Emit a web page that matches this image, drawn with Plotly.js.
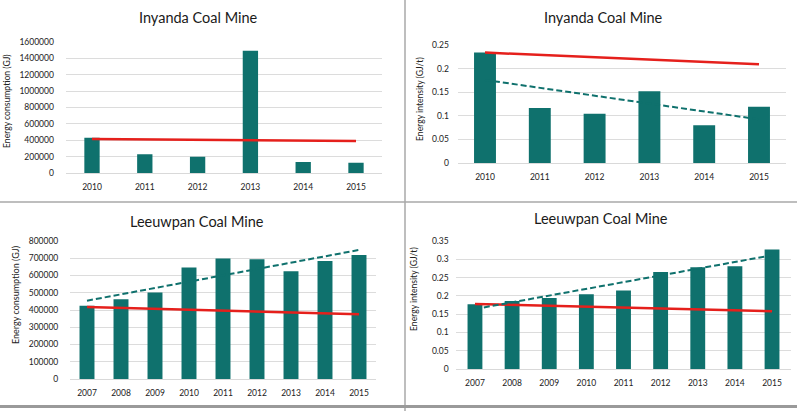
<!DOCTYPE html>
<html>
<head>
<meta charset="utf-8">
<script src="https://cdn.plot.ly/plotly-3.0.1.min.js"></script>
<style>
html,body{margin:0;padding:0;background:#fff;}
#chart{width:797px;height:411px;}
</style>
</head>
<body>
<div id="chart"></div>
<script>
// ---- Data ----
var inyandaYears = ['2010','2011','2012','2013','2014','2015'];
var inyandaConsumption = [431000, 228000, 200000, 1494000, 134000, 126000];
var inyandaConsRed = [415000, 391000];
var inyandaIntensity = [0.234, 0.1165, 0.1045, 0.152, 0.080, 0.119];
var inyandaIntRed = [0.234, 0.209];
var inyandaIntDash = [0.176, 0.0925];

var leeuwpanYears = ['2007','2008','2009','2010','2011','2012','2013','2014','2015'];
var leeuwpanConsumption = [425000, 462000, 502000, 647000, 698000, 694000, 624000, 684000, 719000];
var leeuwpanConsRed = [417000, 375000];
var leeuwpanConsDash = [454000, 748000];
var leeuwpanIntensity = [0.177, 0.186, 0.194, 0.2045, 0.2145, 0.265, 0.278, 0.281, 0.327];
var leeuwpanIntRed = [0.178, 0.158];
var leeuwpanIntDash = [0.164, 0.311];

var titles = ['Inyanda Coal Mine','Inyanda Coal Mine','Leeuwpan Coal Mine','Leeuwpan Coal Mine'];
var yTitles = ['Energy consumption (GJ)','Energy intensity (GJ/t)','Energy consumption (GJ)','Energy intensity (GJ/t)'];

// ---- Styles ----
var W = 797, H = 411;
var TEAL = '#0f716d', RED = '#e5201c';
var FONT = 'Lato, "Open Sans", sans-serif';
function px(x){return x/W;}
function py(y){return 1 - y/H;}
function ends(a){return [a[0], a[a.length-1]];}

function bar(x, y, ax, w){
  return {type:'bar', x:x, y:y, xaxis:'x'+ax, yaxis:'y'+ax, width:w,
    marker:{color:TEAL, line:{width:0}}, hoverinfo:'skip'};
}
function line(x, y, ax, color, dash, wd){
  return {type:'scatter', mode:'lines', x:ends(x), y:y, xaxis:'x'+ax, yaxis:'y'+ax,
    line:{color:color, width:wd, dash:dash}, hoverinfo:'skip'};
}

var data = [
  bar(inyandaYears, inyandaConsumption, '', 0.29),
  line(inyandaYears, inyandaConsRed, '', RED, 'solid', 2.5),
  bar(inyandaYears, inyandaIntensity, '2', 0.4),
  line(inyandaYears, inyandaIntRed, '2', RED, 'solid', 2.5),
  line(inyandaYears, inyandaIntDash, '2', TEAL, '6px,3px', 2),
  bar(leeuwpanYears, leeuwpanConsumption, '3', 0.44),
  line(leeuwpanYears, leeuwpanConsRed, '3', RED, 'solid', 2.5),
  line(leeuwpanYears, leeuwpanConsDash, '3', TEAL, '6px,3px', 2),
  bar(leeuwpanYears, leeuwpanIntensity, '4', 0.4),
  line(leeuwpanYears, leeuwpanIntRed, '4', RED, 'solid', 2.5),
  line(leeuwpanYears, leeuwpanIntDash, '4', TEAL, '6px,3px', 2)
];

var tickFont = {family:FONT, size:8.5, color:'#222'};
function xax(l, r, anchor){
  return {domain:[px(l), px(r)], anchor:anchor, type:'category', showgrid:false,
    showline:true, linecolor:'#d9d9d9', linewidth:1, zeroline:false,
    ticks:'outside', ticklen:6, tickcolor:'rgba(0,0,0,0)', tickfont:tickFont, fixedrange:true};
}
function yax(t, b, anchor, range, dtick, tl, fmt){
  return {domain:[py(b), py(t)], anchor:anchor, range:range, dtick:dtick, showgrid:true,
    gridcolor:'#dcdcdc', gridwidth:1, zeroline:false, showline:false, tickformat:fmt,
    ticks:'outside', ticklen:tl, tickcolor:'rgba(0,0,0,0)', tickfont:tickFont, fixedrange:true};
}

var titlePos = [[198,18],[603,18],[197,221],[601,218]];
var yTitlePos = [[7,101,102],[420,99,105],[15,295,112],[414,289,108]];
var annotations = [];
titles.forEach(function(t,i){
  annotations.push({text:t, x:px(titlePos[i][0]), y:py(titlePos[i][1]), xref:'paper', yref:'paper',
    xanchor:'center', yanchor:'middle', showarrow:false, font:{family:FONT, size:14.5, color:'#1a1a1a'}});
});
yTitles.forEach(function(t,i){
  annotations.push({text:t, x:px(yTitlePos[i][0]), y:py(yTitlePos[i][1]), xref:'paper', yref:'paper',
    xanchor:'center', yanchor:'middle', textangle:-90, showarrow:false,
    font:{family:FONT, size:i===2?9:8.6, color:'#222'}});
});

var shapes = [
  {type:'line', xref:'paper', yref:'paper', x0:px(405), x1:px(405), y0:0, y1:1, line:{color:'#a8a8a8', width:1.5}},
  {type:'line', xref:'paper', yref:'paper', x0:0, x1:1, y0:py(202), y1:py(202), line:{color:'#a8a8a8', width:1.5}},
  {type:'line', xref:'paper', yref:'paper', x0:0, x1:1, y0:py(406.5), y1:py(406.5), line:{color:'#9a9a9a', width:3}}
];

var layout = {
  width:W, height:H, margin:{l:0,r:0,t:0,b:0}, paper_bgcolor:'#fff', plot_bgcolor:'rgba(0,0,0,0)',
  showlegend:false, font:{family:FONT},
  xaxis: xax(65.6, 382.4, 'y'),
  yaxis: yax(42, 173, 'x', [0,1600000], 200000, 9, 'd'),
  xaxis2: xax(457.6, 786.4, 'y2'),
  yaxis2: yax(45, 163, 'x2', [0,0.25], 0.05, 6, ''),
  xaxis3: xax(70, 376, 'y3'),
  yaxis3: yax(241, 379, 'x3', [0,800000], 100000, 9, 'd'),
  xaxis4: xax(456.4, 790.6, 'y4'),
  yaxis4: yax(241, 369, 'x4', [0,0.35], 0.05, 5, ''),
  annotations:annotations, shapes:shapes
};

Plotly.newPlot('chart', data, layout, {displayModeBar:false, staticPlot:true});
</script>
</body>
</html>
